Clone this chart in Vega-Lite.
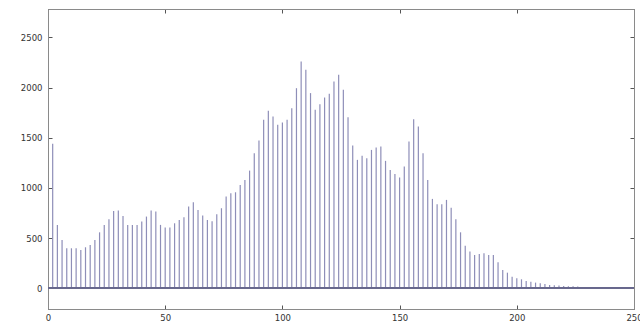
{
  "$schema": "https://vega.github.io/schema/vega-lite/v6.json",
  "autosize": "none",
  "width": 586,
  "height": 300,
  "padding": {"left": 48, "top": 9, "right": 6, "bottom": 17},
  "background": "white",
  "config": {
    "view": {"stroke": "#8a8a8a", "strokeWidth": 1},
    "axis": {"labelFont": "DejaVu Sans", "labelFontSize": 8.5, "labelColor": "#333333", "domainColor": "#8a8a8a", "tickColor": "#555555", "grid": false, "title": null, "format": "d"}
  },
  "data": {"values": [
    {"v": 2, "c": 1440}, {"v": 4, "c": 632}, {"v": 6, "c": 482}, {"v": 8, "c": 399}, {"v": 10, "c": 399},
    {"v": 12, "c": 399}, {"v": 14, "c": 382}, {"v": 16, "c": 409}, {"v": 18, "c": 432}, {"v": 20, "c": 482},
    {"v": 22, "c": 558}, {"v": 24, "c": 632}, {"v": 26, "c": 688}, {"v": 28, "c": 771}, {"v": 30, "c": 775},
    {"v": 32, "c": 721}, {"v": 34, "c": 632}, {"v": 36, "c": 632}, {"v": 38, "c": 632}, {"v": 40, "c": 665},
    {"v": 42, "c": 715}, {"v": 44, "c": 775}, {"v": 46, "c": 765}, {"v": 48, "c": 632}, {"v": 50, "c": 605},
    {"v": 52, "c": 605}, {"v": 54, "c": 648}, {"v": 56, "c": 681}, {"v": 58, "c": 708}, {"v": 60, "c": 814},
    {"v": 62, "c": 858}, {"v": 64, "c": 781}, {"v": 66, "c": 725}, {"v": 68, "c": 681}, {"v": 70, "c": 668},
    {"v": 72, "c": 738}, {"v": 74, "c": 798}, {"v": 76, "c": 914}, {"v": 78, "c": 947}, {"v": 80, "c": 957},
    {"v": 82, "c": 1030}, {"v": 84, "c": 1080}, {"v": 86, "c": 1173}, {"v": 88, "c": 1346}, {"v": 90, "c": 1472},
    {"v": 92, "c": 1679}, {"v": 94, "c": 1768}, {"v": 96, "c": 1712}, {"v": 98, "c": 1629}, {"v": 100, "c": 1652},
    {"v": 102, "c": 1679}, {"v": 104, "c": 1795}, {"v": 106, "c": 1994}, {"v": 108, "c": 2260}, {"v": 110, "c": 2177},
    {"v": 112, "c": 1945}, {"v": 114, "c": 1778}, {"v": 116, "c": 1835}, {"v": 118, "c": 1901}, {"v": 120, "c": 1938},
    {"v": 122, "c": 2061}, {"v": 124, "c": 2127}, {"v": 126, "c": 1978}, {"v": 128, "c": 1705}, {"v": 130, "c": 1423},
    {"v": 132, "c": 1280}, {"v": 134, "c": 1320}, {"v": 136, "c": 1296}, {"v": 138, "c": 1379}, {"v": 140, "c": 1403},
    {"v": 142, "c": 1413}, {"v": 144, "c": 1270}, {"v": 146, "c": 1180}, {"v": 148, "c": 1140}, {"v": 150, "c": 1104},
    {"v": 152, "c": 1213}, {"v": 154, "c": 1463}, {"v": 156, "c": 1685}, {"v": 158, "c": 1612}, {"v": 160, "c": 1346},
    {"v": 162, "c": 1080}, {"v": 164, "c": 891}, {"v": 166, "c": 838}, {"v": 168, "c": 838}, {"v": 170, "c": 881},
    {"v": 172, "c": 804}, {"v": 174, "c": 688}, {"v": 176, "c": 558}, {"v": 178, "c": 425}, {"v": 180, "c": 366},
    {"v": 182, "c": 332}, {"v": 184, "c": 342}, {"v": 186, "c": 349}, {"v": 188, "c": 332}, {"v": 190, "c": 332},
    {"v": 192, "c": 259}, {"v": 194, "c": 183}, {"v": 196, "c": 156}, {"v": 198, "c": 116}, {"v": 200, "c": 100},
    {"v": 202, "c": 90}, {"v": 204, "c": 73}, {"v": 206, "c": 66}, {"v": 208, "c": 57}, {"v": 210, "c": 50},
    {"v": 212, "c": 43}, {"v": 214, "c": 33}, {"v": 216, "c": 30}, {"v": 218, "c": 27}, {"v": 220, "c": 23},
    {"v": 222, "c": 20}, {"v": 224, "c": 20}, {"v": 226, "c": 17}, {"v": 228, "c": 13}, {"v": 230, "c": 13},
    {"v": 232, "c": 10}, {"v": 234, "c": 10}, {"v": 236, "c": 7}, {"v": 238, "c": 4}, {"v": 240, "c": 3}
  ]},
  "layer": [
    {
      "mark": {"type": "rule", "color": "#8e8eb8", "strokeWidth": 1.2},
      "encoding": {
        "x": {"field": "v", "type": "quantitative", "scale": {"domain": [0, 250], "nice": false, "zero": false},
              "axis": {"orient": "bottom", "values": [0, 50, 100, 150, 200, 250], "tickSize": -4, "labelPadding": 8, "labelFlush": false}},
        "y": {"field": "c", "type": "quantitative", "scale": {"domain": [-206, 2783], "nice": false, "zero": false},
              "axis": {"orient": "left", "values": [0, 500, 1000, 1500, 2000, 2500], "tickSize": -4, "labelPadding": 10}},
        "y2": {"datum": 0}
      }
    },
    {
      "mark": {"type": "rule", "color": "#6a6a8e", "strokeWidth": 1},
      "encoding": {
        "y": {"datum": 0, "type": "quantitative", "axis": {"orient": "right", "values": [0, 500, 1000, 1500, 2000, 2500], "tickSize": -4, "labels": false}},
        "x": {"datum": 0, "type": "quantitative", "axis": {"orient": "top", "values": [0, 50, 100, 150, 200, 250], "tickSize": -4, "labels": false}},
        "x2": {"datum": 250}
      }
    }
  ],
  "resolve": {"axis": {"x": "independent", "y": "independent"}}
}
